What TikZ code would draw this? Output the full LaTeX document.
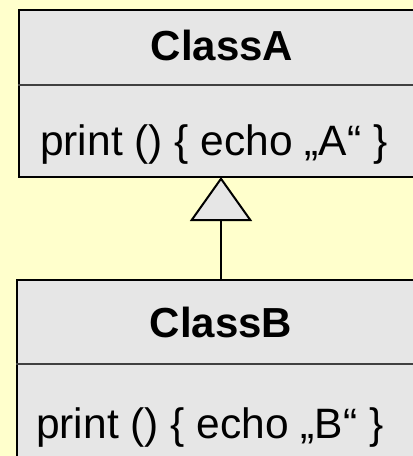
\documentclass[tikz,border=0pt]{standalone}
\usepackage{fontspec}
\setmainfont{Liberation Sans}
\usetikzlibrary{arrows.meta}
\definecolor{bgyellow}{HTML}{FFFFCC}
\definecolor{boxfill}{HTML}{E6E6E6}
\tikzset{
  classbox/.style={draw=black, line width=2pt, fill=boxfill, rectangle, inner sep=0pt, anchor=north west},
  divider/.style={draw=black!75, line width=1.3pt},
  title/.style={font=\fontsize{42}{48}\selectfont\bfseries, anchor=base, inner sep=0pt},
  body/.style={font=\fontsize{42.5}{48}\selectfont, anchor=base west, inner sep=0pt},
  inherit/.style={draw=black, line width=2pt, -{Triangle[open, width=62pt, length=44pt, fill=boxfill]}}
}
\begin{document}
\begin{tikzpicture}[x=1pt, y=-1pt]
  \useasboundingbox[fill=bgyellow] (0,0) rectangle (413,456);
  % Class A
  \node[classbox, minimum width=412pt, minimum height=167pt] (A) at (18,9) {};
  \draw[divider] (18,85) -- (430,85);
  \node[title] (Atitle) at (222,60) {ClassA};
  \node[body] (Abody) at (40,155) {print () \{ echo „A“ \}};
  % Class B
  \node[classbox, minimum width=414pt, minimum height=200pt] (B) at (16,279) {};
  \draw[divider] (16,364) -- (430,364);
  \node[title] (Btitle) at (221,337) {ClassB};
  \node[body] (Bbody) at (36,438) {print () \{ echo „B“ \}};
  % inheritance
  \coordinate (Bt) at (221,279);
  \coordinate (As) at (221,177);
  \draw[inherit] (Bt) -- (As);
\end{tikzpicture}
\end{document}
